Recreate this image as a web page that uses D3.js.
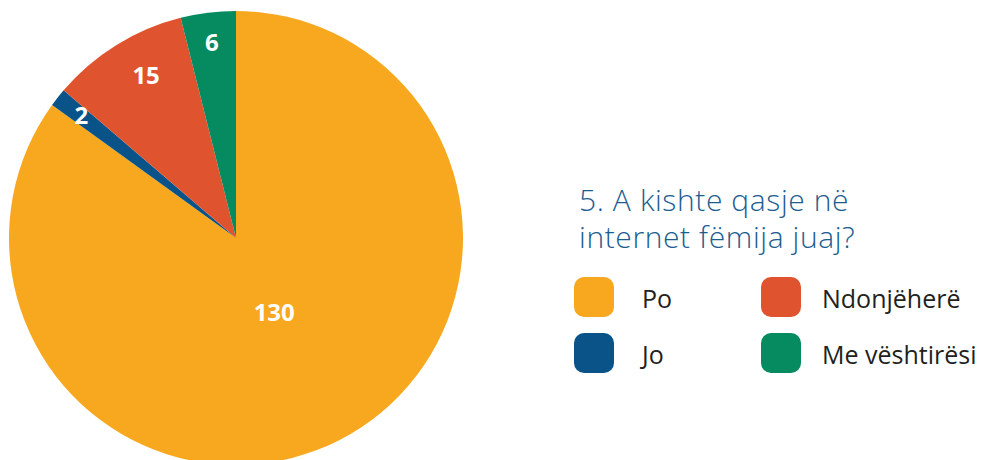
<!DOCTYPE html>
<html lang="sq">
<head>
<meta charset="utf-8">
<title>Pie</title>
<script src="https://cdn.jsdelivr.net/npm/d3@7"></script>
<style>
  body { margin: 0; background: #fff; }
  svg text { font-family: "Open Sans", sans-serif; }
</style>
</head>
<body>
<script>
var categories = ["Po", "Jo", "Ndonjëherë", "Me vështirësi"];
var values = [130, 2, 15, 6];
var colors = ["#F8A81F", "#0A5388", "#E0532F", "#068A5F"];
var titleLines = ["5. A kishte qasje në", "internet fëmija juaj?"];

var w = 984, h = 460;
var cx = 236, cy = 238, r = 227;

var svg = d3.select("body").append("svg")
    .attr("width", w)
    .attr("height", h);

var data = categories.map(function(c, i) {
  return { name: c, value: values[i], color: colors[i] };
});

var pie = d3.pie()
    .sort(null)
    .value(function(d) { return d.value; });

var arcs = pie(data);

var arc = d3.arc().innerRadius(0).outerRadius(r);

var g = svg.append("g")
    .attr("transform", "translate(" + cx + "," + cy + ")");

g.selectAll("path")
  .data(arcs)
  .enter()
  .append("path")
  .attr("d", arc)
  .attr("fill", function(d) { return d.data.color; });

// big slice label sits near the middle, small ones out near the rim
function labelPos(d) {
  var lr = d.data.value > 100 ? 84 : (d.data.value > 10 ? 186 : 197);
  var a = (d.startAngle + d.endAngle) / 2;
  if (d.data.value > 10 && d.data.value < 100) a += 0.05;
  return [Math.sin(a) * lr, -Math.cos(a) * lr];
}

g.selectAll("text.val")
  .data(arcs)
  .enter()
  .append("text")
  .attr("class", "val")
  .attr("x", function(d) { return labelPos(d)[0]; })
  .attr("y", function(d) { return labelPos(d)[1]; })
  .attr("dy", "0.35em")
  .attr("text-anchor", "middle")
  .attr("fill", "#fff")
  .attr("font-weight", 700)
  .attr("font-size", 24)
  .text(function(d) { return d.data.value; });

// title
svg.append("g")
  .selectAll("text")
  .data(titleLines)
  .enter()
  .append("text")
  .attr("x", 579)
  .attr("y", function(d, i) { return 211 + i * 37; })
  .attr("fill", "#1C5D90")
  .attr("font-weight", 300)
  .attr("font-size", 30)
  .attr("letter-spacing", 0.6)
  .text(function(d) { return d; });

// legend, two columns
var legend = svg.append("g")
  .selectAll("g")
  .data(data)
  .enter()
  .append("g")
  .attr("transform", function(d, i) {
    var col = i < 2 ? 0 : 1, row = i % 2;
    return "translate(" + (574 + col * 187) + "," + (277 + row * 56) + ")";
  });

legend.append("rect")
  .attr("width", 40)
  .attr("height", 40)
  .attr("rx", 10)
  .attr("fill", function(d) { return d.color; });

legend.append("text")
  .attr("x", function(d, i) { return i < 2 ? 68 : 61; })
  .attr("y", 31)
  .attr("fill", "#231F20")
  .attr("font-size", 25)
  .text(function(d) { return d.name; });
</script>
</body>
</html>
